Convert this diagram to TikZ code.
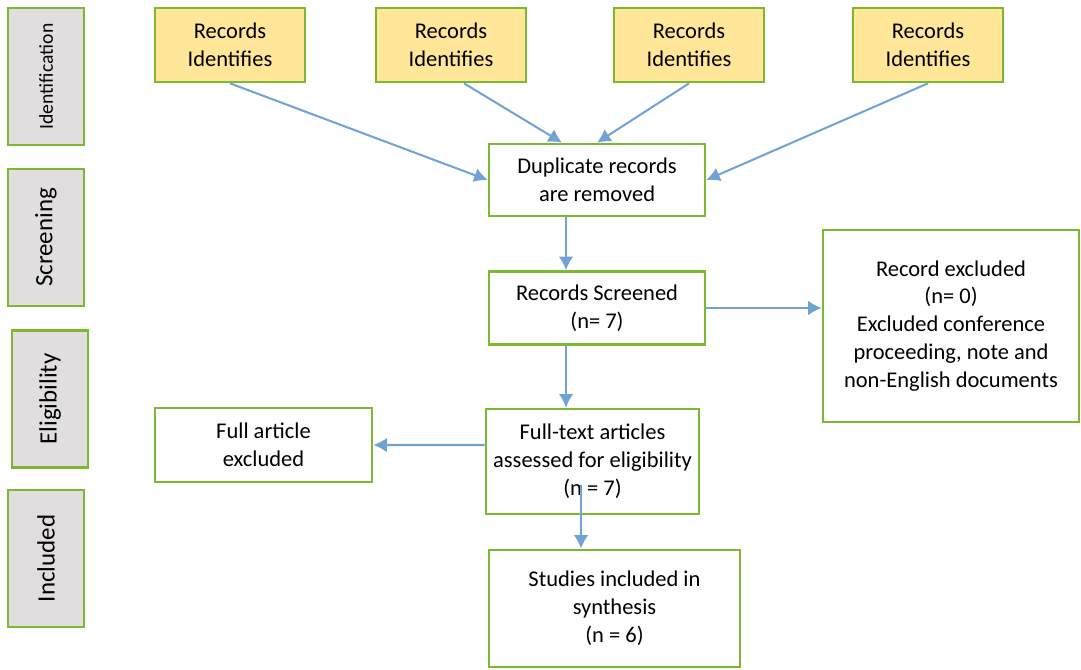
\documentclass[tikz,border=0pt]{standalone}
\usepackage{fontspec}
\setmainfont{Carlito}
\usetikzlibrary{arrows.meta}

\definecolor{boxgreen}{RGB}{124,184,48}
\definecolor{idyellow}{RGB}{255,230,153}
\definecolor{stagegray}{RGB}{224,222,223}
\definecolor{flowblue}{RGB}{112,162,214}

\tikzset{
    box/.style={draw=boxgreen, line width=1.55pt, fill=white, align=center, inner sep=2pt,
        font=\fontsize{12.8}{15.9}\selectfont},
    idbox/.style={box, fill=idyellow, minimum width=3cm, minimum height=1.48cm},
    stage/.style={box, fill=stagegray, rotate=90, minimum width=2.74cm, minimum height=1.52cm,
        font=\fontsize{14.2}{16}\selectfont},
    flow/.style={draw=flowblue, line width=1.15pt, -{Latex[length=0.27cm,width=0.29cm]}}
}

\begin{document}
\begin{tikzpicture}[x=0.02cm, y=-0.02cm]
        \useasboundingbox (0,0) rectangle (1081,669);

        % stages
        \node[stage, font=\fontsize{11.2}{13}\selectfont] (ident) at (46,76.5) {Identification};
        \node[stage] (screen) at (46,237.5) {Screening};
        \node[stage] (elig) at (50,399) {Eligibility};
        \node[stage] (incl) at (46,558.5) {Included};

        % records
        \foreach \name/\x in {rec1/230, rec2/451, rec3/689, rec4/928}
            \node[idbox] (\name) at (\x,45) {Records\\Identifies};

        \node[box, minimum width=4.32cm, minimum height=1.44cm] (dup) at (597,180)
            {Duplicate records\\are removed};
        \node[box, minimum width=4.32cm, minimum height=1.46cm] (scr) at (597,308)
            {Records Screened\\(n= 7)};
        \node[box, minimum width=5.12cm, minimum height=3.84cm] (exc) at (951,326)
            {Record excluded\\(n= 0)\\Excluded conference\\proceeding, note and\\non-English documents};
        \node[box, minimum width=4.26cm, minimum height=2.1cm] (full) at (592.5,461.5)
            {Full-text articles\\assessed for eligibility\\(n = 7)};
        \node[box, minimum width=4.34cm, minimum height=1.48cm] (fart) at (263.5,445)
            {Full article\\excluded};
        \node[box, minimum width=5.02cm, minimum height=2.34cm] (stud) at (614.5,608.5)
            {Studies included in\\synthesis\\(n = 6)};

        % arrows
        \draw[flow] (rec1.south) -- (dup.west);
        \draw[flow] ([xshift=0.26cm]rec2.south) -- ([xshift=-0.7cm]dup.north);
        \draw[flow] (rec3.south) -- (dup.north);
        \draw[flow] (rec4.south) -- (dup.east);
        \draw[flow] ([xshift=-0.62cm]dup.south) -- ([xshift=-0.62cm]scr.north);
        \draw[flow] (scr.east) -- (scr.east -| exc.west);
        \draw[flow] ([xshift=-0.62cm]scr.south) -- ([xshift=-0.62cm]scr.south |- full.north);
        \draw[flow] ([yshift=0.33cm]full.west) -- (fart.east);
        \coordinate (fullin) at (581,485);
        \draw[flow] (fullin) -- (fullin |- stud.north);
    \end{tikzpicture}
\end{document}
